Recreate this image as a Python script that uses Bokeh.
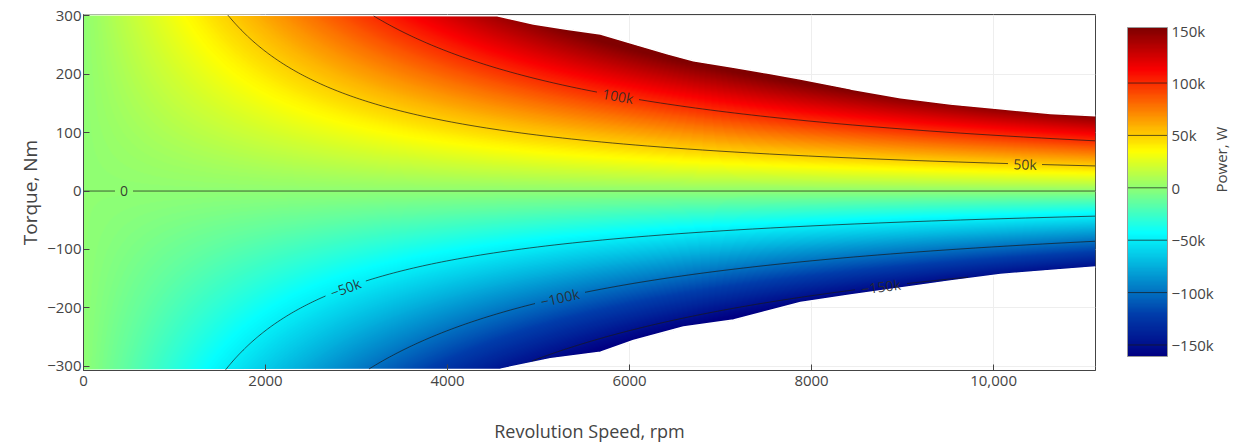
import math
import numpy as np
import contourpy
from bokeh.plotting import figure
from bokeh.models import LinearColorMapper, Range1d, FixedTicker
from bokeh.layouts import row
from bokeh.core.properties import value
from bokeh.embed import file_html
from bokeh.resources import INLINE

# ---------------- data ----------------
# upper edge of the operating region (max torque vs speed)
SPEED_TOP_RPM = [0, 4546, 4945, 5311, 5681, 6044, 6418, 6703, 7143, 7516, 7879,
                 8429, 8978, 9527, 10077, 10626, 11120]
TORQUE_MAX_NM = [302, 300, 286, 277, 269, 252, 235, 223, 212, 202, 192,
                 175, 160, 149, 141, 133, 129]
# lower edge of the operating region (min torque vs speed)
SPEED_BOT_RPM = [0, 4582, 5132, 5681, 6044, 6593, 7143, 7879, 8429, 8978, 9527,
                 10077, 10626, 11120]
TORQUE_MIN_NM = [-307, -305, -287, -276, -256, -233, -221, -191, -178, -166, -154,
                 -143, -136, -130]

X_RANGE = (0, 11120)
Y_RANGE = (-307, 302)
X_TICKS = [0, 2000, 4000, 6000, 8000, 10000]
X_TICK_LABELS = ["0", "2000", "4000", "6000", "8000", "10,000"]
Y_TICKS = [-300, -200, -100, 0, 100, 200, 300]
Y_TICK_LABELS = ["\u2212300", "\u2212200", "\u2212100", "0", "100", "200", "300"]

LEVELS_W = [-150000, -100000, -50000, 0, 50000, 100000]
LEVEL_LABELS = ["\u2212150k", "\u2212100k", "\u221250k", "0", "50k", "100k"]
LABEL_SPEED_RPM = [8760, 5240, 2880, 440, 10340, 5870]

CBAR_RANGE_W = (-161000, 153000)
CBAR_TICKS = [-150000, -100000, -50000, 0, 50000, 100000, 150000]
CBAR_TICK_LABELS = ["\u2212150k", "\u2212100k", "\u221250k", "0", "50k", "100k", "150k"]

# ---------------- layout constants ----------------
FRAME_W, FRAME_H = 1012, 356
BAR_W, BAR_H = 40, 329
BAR_TOP_GAP, BAR_BOTTOM_GAP = 13, 14   # bar inset within the frame height (px)
FONT = "Open Sans"
TXT = "#444444"

# Jet colour scale (plotly stops)
JET = [(0.0, (0, 0, 131)), (0.125, (0, 60, 170)), (0.375, (5, 255, 255)),
       (0.625, (255, 255, 0)), (0.875, (250, 0, 0)), (1.0, (128, 0, 0))]


def make_palette(n=256):
    pos = [s[0] for s in JET]
    out = []
    for t in np.linspace(0, 1, n):
        rgb = [int(round(np.interp(t, pos, [s[1][c] for s in JET]))) for c in range(3)]
        out.append("#%02x%02x%02x" % tuple(rgb))
    return out


palette = make_palette()
mapper = LinearColorMapper(palette=palette, low=CBAR_RANGE_W[0], high=CBAR_RANGE_W[1],
                           nan_color="rgba(0,0,0,0)")

# ---------------- power field ----------------
nx, ny = FRAME_W, FRAME_H
xs = X_RANGE[0] + (np.arange(nx) + 0.5) * (X_RANGE[1] - X_RANGE[0]) / nx
ys = Y_RANGE[0] + (np.arange(ny) + 0.5) * (Y_RANGE[1] - Y_RANGE[0]) / ny
N, T = np.meshgrid(xs, ys)
P = T * N * 2 * np.pi / 60.0
top = np.interp(xs, SPEED_TOP_RPM, TORQUE_MAX_NM)
bot = np.interp(xs, SPEED_BOT_RPM, TORQUE_MIN_NM)
P[(T > top[None, :]) | (T < bot[None, :])] = np.nan

# ---------------- main figure ----------------
p = figure(frame_width=FRAME_W, frame_height=FRAME_H,
           x_range=Range1d(*X_RANGE), y_range=Range1d(*Y_RANGE),
           output_backend="svg", toolbar_location=None,
           min_border_left=83, min_border_top=14, min_border_right=15, min_border_bottom=72,
           background_fill_color="white", border_fill_color="white")

p.image(image=[P.astype(np.float32)], x=X_RANGE[0], y=Y_RANGE[0],
        dw=X_RANGE[1] - X_RANGE[0], dh=Y_RANGE[1] - Y_RANGE[0], color_mapper=mapper)
# soften the stair-stepped mask edge
p.line(SPEED_TOP_RPM, TORQUE_MAX_NM, line_color="white", line_width=1.8)
p.line(SPEED_BOT_RPM, TORQUE_MIN_NM, line_color="white", line_width=1.8)

# contour lines with gaps for labels
kx = FRAME_W / (X_RANGE[1] - X_RANGE[0])
ky = FRAME_H / (Y_RANGE[1] - Y_RANGE[0])
gen = contourpy.contour_generator(xs, ys, np.ma.masked_invalid(P))


def runs(mask):
    out, start = [], None
    for k, m in enumerate(mask):
        if m and start is None:
            start = k
        elif not m and start is not None:
            out.append((start, k))
            start = None
    if start is not None:
        out.append((start, len(mask)))
    return out


line_xs, line_ys = [], []
lab_x, lab_y, lab_t, lab_a = [], [], [], []
for level, text, xl in zip(LEVELS_W, LEVEL_LABELS, LABEL_SPEED_RPM):
    segs = [np.asarray(s) for s in gen.lines(level) if len(s) > 1]
    if not segs:
        continue
    best = None
    for si, s in enumerate(segs):
        i = int(np.argmin(np.abs(s[:, 0] - xl)))
        d = abs(s[i, 0] - xl)
        if best is None or d < best[0]:
            best = (d, si, i)
    _, si, i = best
    s = segs[si]
    cx, cy = s[i]
    j0, j1 = max(i - 6, 0), min(i + 6, len(s) - 1)
    ang = math.atan2((s[j1, 1] - s[j0, 1]) * ky, (s[j1, 0] - s[j0, 0]) * kx)
    if ang > math.pi / 2:
        ang -= math.pi
    elif ang < -math.pi / 2:
        ang += math.pi
    lab_x.append(cx); lab_y.append(cy); lab_t.append(text); lab_a.append(ang)
    half = 4.3 * len(text) + 4
    for s in segs:
        d = np.hypot((s[:, 0] - cx) * kx, (s[:, 1] - cy) * ky)
        # distance (px) from the region's upper / lower edge: drop parts hugging the edge
        e_top = (np.interp(s[:, 0], SPEED_TOP_RPM, TORQUE_MAX_NM) - s[:, 1]) * ky
        e_bot = (s[:, 1] - np.interp(s[:, 0], SPEED_BOT_RPM, TORQUE_MIN_NM)) * ky
        inside = (np.minimum(e_top, e_bot) > 1.6) | (s[:, 0] < 4400)
        for a, b in runs((d > half) & inside):
            if b - a > 1:
                line_xs.append(s[a:b, 0].tolist())
                line_ys.append(s[a:b, 1].tolist())

p.multi_line(xs=line_xs, ys=line_ys, line_color="#1a1a1a", line_alpha=0.7, line_width=1)
p.text(x=lab_x, y=lab_y, text=lab_t, angle=lab_a, text_align="center", text_baseline="middle",
       text_font=value(FONT), text_font_size="14px", text_color="#2a2a2a", text_alpha=0.9)

# axes styling
p.xaxis.ticker = FixedTicker(ticks=X_TICKS)
p.xaxis.major_label_overrides = dict(zip(X_TICKS, X_TICK_LABELS))
p.yaxis.ticker = FixedTicker(ticks=Y_TICKS)
p.yaxis.major_label_overrides = dict(zip(Y_TICKS, Y_TICK_LABELS))
p.xaxis.axis_label = "Revolution Speed, rpm"
p.yaxis.axis_label = "Torque, Nm"
for ax in (p.xaxis, p.yaxis):
    ax.axis_line_color = TXT
    ax.axis_line_width = 1
    ax.major_tick_line_color = TXT
    ax.major_tick_in = 6
    ax.major_tick_out = 0
    ax.minor_tick_line_color = None
    ax.major_label_text_font = FONT
    ax.major_label_text_font_size = "15px"
    ax.major_label_text_color = TXT
    ax.axis_label_text_font = FONT
    ax.axis_label_text_font_style = "normal"
    ax.axis_label_text_color = TXT
p.xaxis.major_label_standoff = 5
p.yaxis.major_label_standoff = 2
p.xaxis.axis_label_text_font_size = "18px"
p.yaxis.axis_label_text_font_size = "19px"
p.xaxis.axis_label_standoff = 30
p.yaxis.axis_label_standoff = 1
p.grid.grid_line_color = "#eeeeee"
p.grid.grid_line_width = 1
p.xgrid.ticker = FixedTicker(ticks=X_TICKS)
p.ygrid.ticker = FixedTicker(ticks=Y_TICKS)
p.outline_line_color = TXT
p.outline_line_width = 1

# ---------------- colour bar figure ----------------
w_per_px = (CBAR_RANGE_W[1] - CBAR_RANGE_W[0]) / BAR_H
cb_y = (CBAR_RANGE_W[0] - BAR_BOTTOM_GAP * w_per_px, CBAR_RANGE_W[1] + BAR_TOP_GAP * w_per_px)
cb = figure(frame_width=BAR_W + 2, frame_height=FRAME_H,
            x_range=Range1d(-1 / BAR_W, 1 + 1 / BAR_W), y_range=Range1d(*cb_y),
            x_axis_location=None, y_axis_location="right",
            output_backend="svg", toolbar_location=None,
            min_border_left=16, min_border_top=14, min_border_right=66, min_border_bottom=72,
            background_fill_color="white", border_fill_color="white")
grad = np.linspace(CBAR_RANGE_W[0], CBAR_RANGE_W[1], BAR_H).reshape(-1, 1)
cb.image(image=[grad], x=0, y=CBAR_RANGE_W[0], dw=1, dh=CBAR_RANGE_W[1] - CBAR_RANGE_W[0],
         color_mapper=mapper)
cb.segment(x0=[0] * len(LEVELS_W), x1=[1] * len(LEVELS_W), y0=LEVELS_W, y1=LEVELS_W,
           line_color="#1a1a1a", line_alpha=0.7, line_width=1)
cb.quad(left=[0], right=[1], bottom=[CBAR_RANGE_W[0]], top=[CBAR_RANGE_W[1]],
        fill_color=None, line_color="#999999", line_width=1)
cb.grid.visible = False
cb.outline_line_color = None
ya = cb.yaxis[0]
ya.ticker = FixedTicker(ticks=CBAR_TICKS)
ya.major_label_overrides = dict(zip(CBAR_TICKS, CBAR_TICK_LABELS))
ya.major_tick_in = 0
ya.major_tick_out = 0
ya.minor_tick_line_color = None
ya.axis_line_color = None
ya.major_label_standoff = 3
ya.major_label_text_font = FONT
ya.major_label_text_font_size = "15px"
ya.major_label_text_color = TXT
ya.axis_label = "Power, W"
ya.axis_label_text_font = FONT
ya.axis_label_text_font_style = "normal"
ya.axis_label_text_font_size = "15px"
ya.axis_label_text_color = TXT
ya.axis_label_standoff = 4
if "axis_label_orientation" in ya.properties():
    ya.axis_label_orientation = math.pi / 2

layout = row(p, cb)
open("out.html", "w").write(file_html(layout, INLINE))
